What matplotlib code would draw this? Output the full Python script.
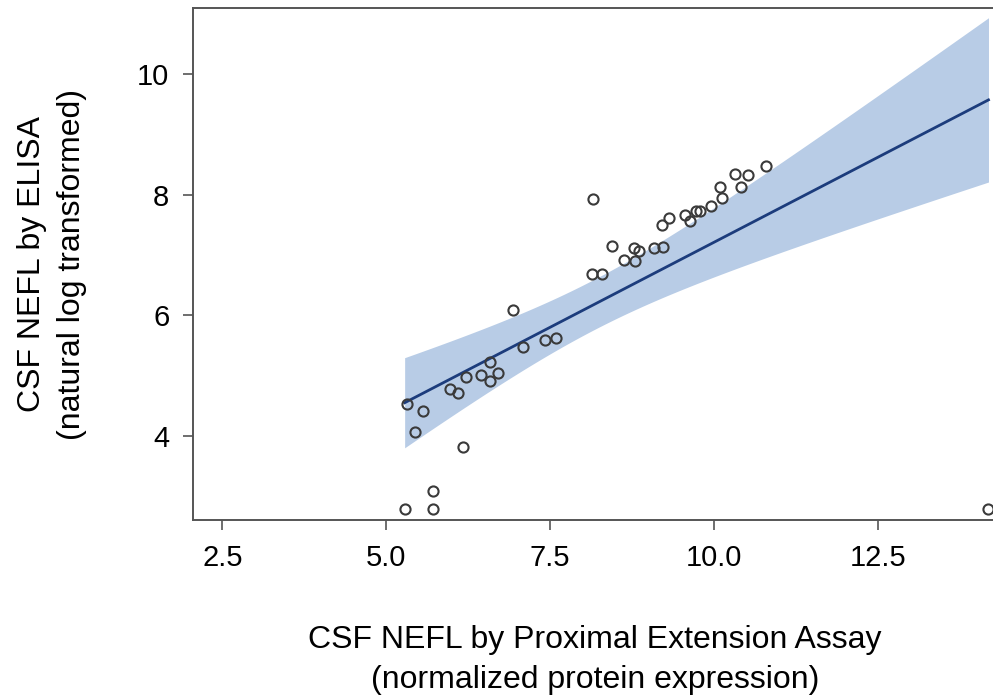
import numpy as np
import matplotlib
matplotlib.use("Agg")
import matplotlib.pyplot as plt

plt.rcParams['font.family'] = ['Liberation Sans', 'DejaVu Sans']

# CSF NEFL: PEA (NPX) vs ELISA (ln)
pea = [5.28, 5.71, 5.72, 5.31, 5.56, 5.44, 6.17, 5.97, 6.10, 6.22,
       6.44, 6.58, 6.58, 6.71, 6.93, 7.08, 7.42, 7.59, 8.15, 8.14,
       8.29, 8.44, 8.63, 8.78, 8.79, 8.86, 9.09, 9.23, 9.20, 9.31,
       9.56, 9.63, 9.73, 9.78, 9.96, 10.10, 10.13, 10.32, 10.41, 10.52,
       10.80, 14.19]
elisa = [2.79, 2.79, 3.09, 4.53, 4.41, 4.07, 3.82, 4.78, 4.72, 4.98,
         5.01, 5.22, 4.91, 5.04, 6.08, 5.47, 5.59, 5.62, 7.92, 6.68,
         6.68, 7.15, 6.92, 7.12, 6.90, 7.06, 7.11, 7.14, 7.49, 7.61,
         7.67, 7.56, 7.73, 7.73, 7.82, 8.13, 7.94, 8.34, 8.13, 8.33,
         8.48, 2.79]
xticks = [2.5, 5.0, 7.5, 10.0, 12.5]
yticks = [4, 6, 8, 10]
t_crit = 2.021  # t(0.975, df=40)

x = np.array(pea)
y = np.array(elisa)
n = len(x)

# linear fit with 95% CI of the mean (like Stata lfitci)
slope, intercept = np.polyfit(x, y, 1)
resid = y - (intercept + slope * x)
s = np.sqrt(np.sum(resid ** 2) / (n - 2))
sxx = np.sum((x - x.mean()) ** 2)
xg = np.linspace(x.min(), x.max(), 100)
yg = intercept + slope * xg
se = s * np.sqrt(1.0 / n + (xg - x.mean()) ** 2 / sxx)

fig = plt.figure(figsize=(9.93, 6.95), dpi=100)
ax = fig.add_axes([193 / 993, 175 / 695, 804 / 993, 512 / 695])

ax.fill_between(xg, yg - t_crit * se, yg + t_crit * se, color='#b8cce6', lw=0)
ax.plot(xg, yg, color='#1c3c7c', lw=2)
ax.plot(x, y, 'o', mfc='none', mec='#3a3a3a', mew=1.5, ms=7.3)

ax.set_xlim(2.05, 14.32)
ax.set_ylim(2.607, 11.094)
ax.set_xticks(xticks)
ax.set_xticklabels(['%.1f' % v for v in xticks])
ax.set_yticks(yticks)
ax.tick_params(labelsize=21, length=7, width=1.2, color='#555555', pad=10)

for sp in ax.spines.values():
    sp.set_color('#555555')
    sp.set_linewidth(1.4)

ax.set_xlabel('CSF NEFL by Proximal Extension Assay\n(normalized protein expression)',
              fontsize=23, linespacing=1.45)
ax.xaxis.set_label_coords(0.5, -0.205)
ax.set_ylabel('CSF NEFL by ELISA\n(natural log transformed)', fontsize=23, linespacing=1.45)
ax.yaxis.set_label_coords(-0.132, 0.5)

fig.savefig('out.png', dpi=100)
